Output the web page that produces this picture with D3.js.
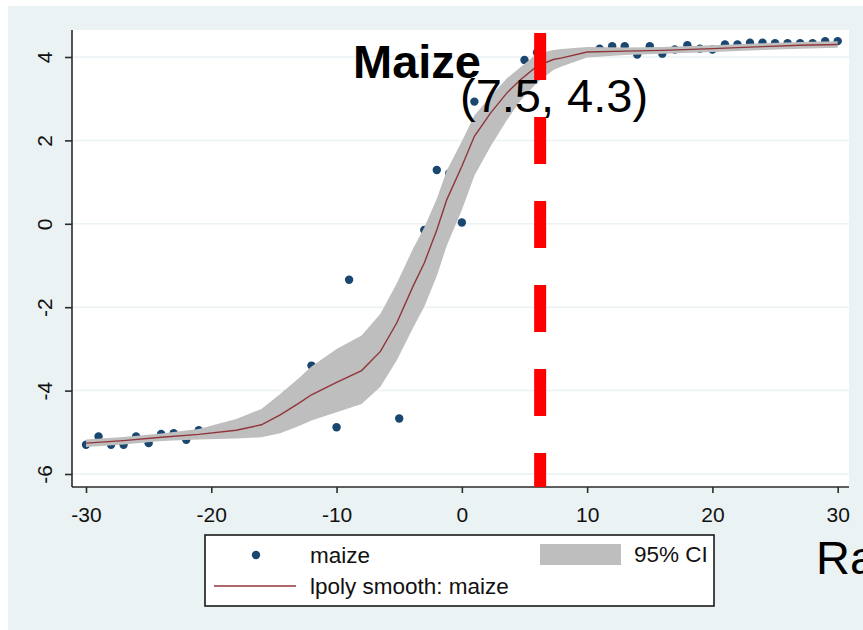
<!DOCTYPE html>
<html>
<head>
<meta charset="utf-8">
<script src="https://cdn.jsdelivr.net/npm/d3@7"></script>
<style>
  html, body { margin: 0; padding: 0; background: #ffffff; }
  svg { display: block; font-family: "Liberation Sans", Arial, sans-serif; }
</style>
</head>
<body>
<svg id="chart" width="863" height="630"></svg>
<script>
// Axis ticks
const xTicks = [-30, -20, -10, 0, 10, 20, 30];
const yTicks = [-6, -4, -2, 0, 2, 4];

// Observed maize values
const maizeX = [-30, -29, -28, -27, -26, -25, -24, -23, -22, -21,
                -12, -10, -9, -5, -3, -2, -1, 0, 1, 5, 6,
                11, 12, 13, 14, 15, 16, 17, 18, 19, 20,
                21, 22, 23, 24, 25, 26, 27, 28, 29, 30];
const maizeY = [-5.30, -5.10, -5.30, -5.30, -5.10, -5.26, -5.04, -5.02, -5.18, -4.95,
                -3.40, -4.88, -1.34, -4.67, -0.15, 1.29, 1.21, 0.03, 2.93, 3.93, 4.11,
                4.20, 4.26, 4.26, 4.06, 4.26, 4.08, 4.18, 4.28, 4.20, 4.18,
                4.30, 4.30, 4.34, 4.34, 4.33, 4.33, 4.33, 4.33, 4.38, 4.38];

// Local polynomial smooth and its 95% confidence band
const smoothX = [-30, -27, -24, -21, -18, -16, -14.5, -13, -12, -10, -8, -6.5, -5.2, -3.9, -3, -2, -1.2,
                 0, 1, 2.3, 3.6, 4.7, 6, 7.3, 8, 10, 13, 16, 20, 24, 27, 30];
const smoothY = [-5.26, -5.20, -5.12, -5.05, -4.95, -4.82, -4.58, -4.30, -4.10, -3.80, -3.52, -3.06, -2.38, -1.50, -0.94, -0.15, 0.58,
                 1.38, 2.10, 2.66, 3.14, 3.46, 3.78, 3.94, 3.98, 4.12, 4.14, 4.16, 4.20, 4.25, 4.28, 4.30];
const ciUpper = [-5.17, -5.11, -5.03, -4.92, -4.68, -4.44, -4.08, -3.70, -3.42, -3.00, -2.68, -2.16, -1.43, -0.60, -0.09, 0.60, 1.28,
                 1.98, 2.60, 3.06, 3.49, 3.76, 4.08, 4.17, 4.19, 4.24, 4.23, 4.24, 4.28, 4.33, 4.36, 4.38];
const ciLower = [-5.35, -5.29, -5.21, -5.17, -5.15, -5.12, -5.02, -4.85, -4.72, -4.52, -4.32, -3.91, -3.28, -2.50, -1.99, -1.25, -0.52,
                 0.33, 1.15, 1.86, 2.49, 2.96, 3.38, 3.69, 3.78, 3.99, 4.05, 4.08, 4.12, 4.17, 4.20, 4.22];

// Threshold marker and annotation
const cutoffX = 6.25;
const titleText = "Maize";
const pointText = "(7.5, 4.3)";
const axisText = "Ra";
const legendLabels = ["maize", "lpoly smooth: maize", "95% CI"];

const svg = d3.select("#chart");
const W = 863, H = 630;
const plot = { left: 72, top: 30, right: 849, bottom: 487 };

const bgColor = "#eaf2f3";
const navy = "#1a476f";
const maroon = "#90353b";
const bandGray = "#bebebe";

const x = d3.scaleLinear().domain([-30, 30]).range([86, 837.7]);
const y = d3.scaleLinear().domain([-6, 4]).range([474, 57]);

// Background and plot region
svg.append("rect").attr("x", 8).attr("y", 6).attr("width", W - 8).attr("height", H - 6).attr("fill", bgColor);
svg.append("rect").attr("x", plot.left).attr("y", plot.top)
  .attr("width", plot.right - plot.left).attr("height", plot.bottom - plot.top).attr("fill", "#ffffff");

svg.append("clipPath").attr("id", "plotClip").append("rect")
  .attr("x", plot.left).attr("y", plot.top)
  .attr("width", plot.right - plot.left).attr("height", plot.bottom - plot.top);

// Horizontal grid
svg.append("g").selectAll("line").data(yTicks).join("line")
  .attr("x1", plot.left).attr("x2", plot.right)
  .attr("y1", d => y(d)).attr("y2", d => y(d))
  .attr("stroke", bgColor).attr("stroke-width", 1.5);

const g = svg.append("g").attr("clip-path", "url(#plotClip)");

// Scatter (drawn first so the band sits over it)
g.append("g").selectAll("circle").data(maizeX.map((v, i) => [v, maizeY[i]])).join("circle")
  .attr("cx", d => x(d[0])).attr("cy", d => y(d[1])).attr("r", 4.2)
  .attr("fill", navy);

// Confidence band
const bandData = smoothX.map((v, i) => ({ x: v, lo: ciLower[i], hi: ciUpper[i] }));
g.append("path").datum(bandData)
  .attr("d", d3.area().x(d => x(d.x)).y0(d => y(d.lo)).y1(d => y(d.hi)))
  .attr("fill", bandGray);

// Smooth line
g.append("path").datum(smoothX.map((v, i) => [x(v), y(smoothY[i])]))
  .attr("d", d3.line())
  .attr("fill", "none").attr("stroke", maroon).attr("stroke-width", 1.4);

// Axes
const fmt = d => String(d);
const xAxis = d3.axisBottom(x).tickValues(xTicks).tickSize(6).tickPadding(8).tickFormat(fmt);
const yAxis = d3.axisLeft(y).tickValues(yTicks).tickSize(7).tickPadding(0).tickFormat(fmt);

const gx = svg.append("g").attr("transform", `translate(0,${plot.bottom})`).call(xAxis);
gx.select(".domain").attr("d", `M${plot.left},0H${plot.right}`);
const gy = svg.append("g").attr("transform", `translate(${plot.left},0)`).call(yAxis);
gy.select(".domain").attr("d", `M0,${plot.top}V${plot.bottom}`);

[gx, gy].forEach(a => {
  a.select(".domain").attr("stroke", "#2b2b2b").attr("stroke-width", 1.6);
  a.selectAll(".tick line").attr("stroke", "#2b2b2b").attr("stroke-width", 1.6);
  a.selectAll(".tick text").attr("fill", "#111").attr("font-size", 21)
    .attr("font-family", "'Liberation Sans', Arial, sans-serif");
});
gx.selectAll(".tick text").attr("dy", null).attr("y", 35);
gy.selectAll(".tick text")
  .attr("x", null).attr("dy", null)
  .attr("text-anchor", "middle")
  .attr("transform", "translate(-20,0) rotate(-90)");

// Threshold line
svg.append("line")
  .attr("x1", x(cutoffX)).attr("x2", x(cutoffX))
  .attr("y1", plot.top + 3).attr("y2", plot.bottom)
  .attr("stroke", "#ff0000").attr("stroke-width", 12)
  .attr("stroke-dasharray", "47,37");

// Annotation text
svg.append("text").attr("x", 353).attr("y", 78)
  .attr("font-size", 47).attr("font-weight", "bold").attr("fill", "#000").text(titleText);
svg.append("text").attr("x", 460).attr("y", 112)
  .attr("font-size", 47).attr("fill", "#000").text(pointText);
svg.append("text").attr("x", 816).attr("y", 574)
  .attr("font-size", 47).attr("fill", "#000").text(axisText);

// Legend
const lg = svg.append("g");
lg.append("rect").attr("x", 205).attr("y", 535).attr("width", 509).attr("height", 71)
  .attr("fill", "#ffffff").attr("stroke", "#1a1a1a").attr("stroke-width", 1.6);
lg.append("circle").attr("cx", 256).attr("cy", 555).attr("r", 4.2).attr("fill", navy);
lg.append("text").attr("x", 310).attr("y", 563).attr("font-size", 22.5).attr("fill", "#111").text(legendLabels[0]);
lg.append("line").attr("x1", 214).attr("x2", 296).attr("y1", 586).attr("y2", 586)
  .attr("stroke", maroon).attr("stroke-width", 1.6);
lg.append("text").attr("x", 310).attr("y", 594).attr("font-size", 22.5).attr("fill", "#111").text(legendLabels[1]);
lg.append("rect").attr("x", 540).attr("y", 544).attr("width", 81).attr("height", 21).attr("fill", bandGray);
lg.append("text").attr("x", 634).attr("y", 562).attr("font-size", 22.5).attr("fill", "#111").text(legendLabels[2]);
</script>
</body>
</html>
